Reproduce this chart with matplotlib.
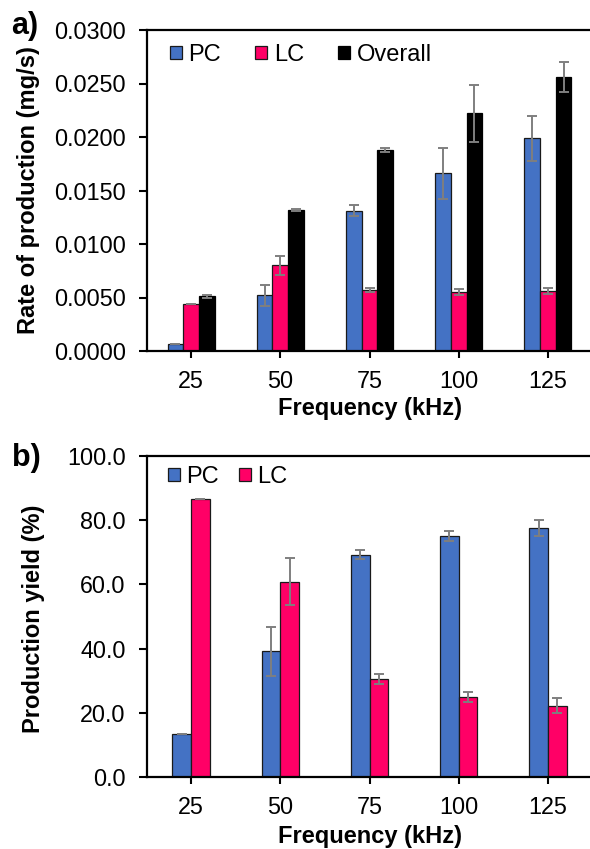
import matplotlib
matplotlib.use("Agg")
import matplotlib.pyplot as plt
import numpy as np
from matplotlib.ticker import FormatStrFormatter

plt.rcParams['font.family'] = ['Liberation Sans', 'DejaVu Sans']

categories = ["25", "50", "75", "100", "125"]

# Panel a: rate of production (mg/s)
rate_pc = [0.0007, 0.0052, 0.0131, 0.0166, 0.0199]
rate_pc_err = [0.0000, 0.0010, 0.0005, 0.0024, 0.0021]
rate_lc = [0.0044, 0.0080, 0.0057, 0.0055, 0.0056]
rate_lc_err = [0.0000, 0.0009, 0.0002, 0.0003, 0.0003]
rate_all = [0.0051, 0.0132, 0.0188, 0.0222, 0.0256]
rate_all_err = [0.0001, 0.0001, 0.0002, 0.0027, 0.0014]

# Panel b: production yield (%)
yield_pc = [13.4, 39.1, 69.3, 75.0, 77.7]
yield_pc_err = [0.0, 7.5, 1.5, 1.6, 2.5]
yield_lc = [86.5, 60.9, 30.6, 25.0, 22.2]
yield_lc_err = [0.0, 7.4, 1.6, 1.6, 2.4]

C_PC = "#4472C4"
C_LC = "#FF0066"
C_ALL = "#000000"
C_ERR = "#7F7F7F"

W, H = 590, 849
fig = plt.figure(figsize=(W / 100, H / 100), dpi=100)

def axes_px(left, right, top, bottom):
    return fig.add_axes([left / W, 1 - bottom / H, (right - left) / W, (bottom - top) / H])

ax1 = axes_px(146.5, 592.5, 30, 351)
ax2 = axes_px(146.5, 592.5, 456, 777)

x = np.arange(len(categories))
err_kw = dict(ecolor=C_ERR, elinewidth=1.4, capsize=3.5, capthick=1.4)

# Panel a
w = 0.175
ax1.bar(x - w, rate_pc, w, yerr=rate_pc_err, color=C_PC, edgecolor="#1a1a1a", linewidth=0.9, label="PC", error_kw=err_kw)
ax1.bar(x, rate_lc, w, yerr=rate_lc_err, color=C_LC, edgecolor="#1a1a1a", linewidth=0.9, label="LC", error_kw=err_kw)
ax1.bar(x + w, rate_all, w, yerr=rate_all_err, color=C_ALL, edgecolor="#000000", linewidth=0.9, label="Overall", error_kw=err_kw)
ax1.set_ylim(0, 0.03)
ax1.set_yticks(np.arange(0, 0.03001, 0.005))
ax1.yaxis.set_major_formatter(FormatStrFormatter("%.4f"))

# Panel b
w2 = 0.21
ax2.bar(x - w2 / 2, yield_pc, w2, yerr=yield_pc_err, color=C_PC, edgecolor="#1a1a1a", linewidth=0.9, label="PC", error_kw=err_kw)
ax2.bar(x + w2 / 2, yield_lc, w2, yerr=yield_lc_err, color=C_LC, edgecolor="#1a1a1a", linewidth=0.9, label="LC", error_kw=err_kw)
ax2.set_ylim(0, 100)
ax2.set_yticks(np.arange(0, 100.1, 20))
ax2.yaxis.set_major_formatter(FormatStrFormatter("%.1f"))

for ax in (ax1, ax2):
    ax.set_xlim(-0.5, len(categories) - 0.5)
    ax.set_xticks(x)
    ax.set_xticklabels(categories)
    ax.tick_params(axis="both", labelsize=16.8, width=1.5, direction="out", colors="#000000")
    ax.tick_params(axis="y", length=6, pad=9)
    ax.tick_params(axis="x", length=5, pad=9)
    for s in ("left", "bottom", "top"):
        ax.spines[s].set_linewidth(1.6)
    ax.spines["right"].set_visible(False)

# axis titles
fig.text(370 / W, 1 - 409 / H, "Frequency (kHz)", fontsize=17, fontweight="bold", ha="center", va="center")
fig.text(370 / W, 1 - 837 / H, "Frequency (kHz)", fontsize=17, fontweight="bold", ha="center", va="center")
fig.text(29 / W, 1 - 190 / H, "Rate of production (mg/s)", fontsize=17, fontweight="bold",
         ha="center", va="center", rotation=90)
fig.text(34 / W, 1 - 619 / H, "Production yield (%)", fontsize=17, fontweight="bold",
         ha="center", va="center", rotation=90)

leg_kw = dict(loc="center left", frameon=False, fontsize=17, handlelength=0.5, handleheight=0.5,
              handletextpad=0.28, borderpad=0, borderaxespad=0, bbox_transform=fig.transFigure)
ax1.legend(ncol=3, columnspacing=1.45, bbox_to_anchor=(170 / W, 1 - 55 / H), **leg_kw)
ax2.legend(ncol=2, columnspacing=0.85, bbox_to_anchor=(168 / W, 1 - 477 / H), **leg_kw)

fig.text(11 / W, 1 - 34 / H, "a)", fontsize=22, fontweight="bold", ha="left", va="baseline")
fig.text(12 / W, 1 - 466 / H, "b)", fontsize=22, fontweight="bold", ha="left", va="baseline")

fig.savefig("out.png", dpi=100)
